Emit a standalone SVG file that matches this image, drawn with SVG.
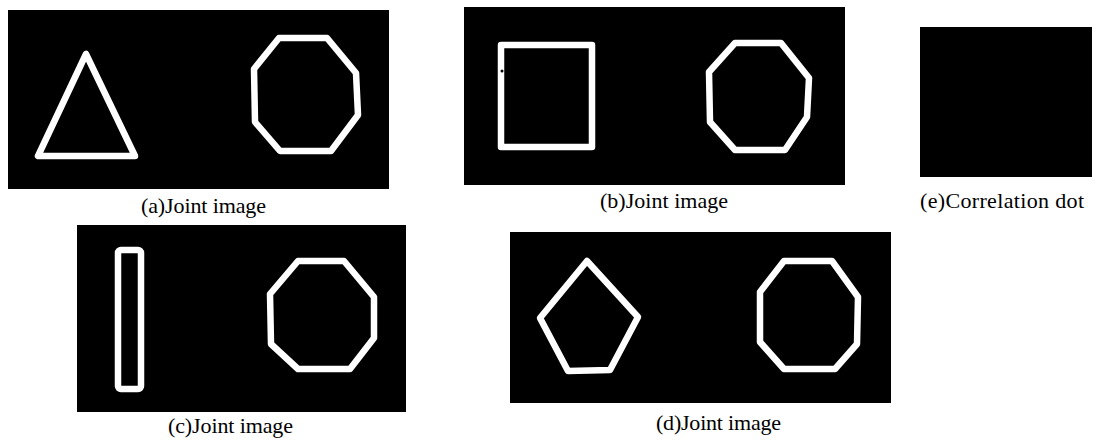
<svg xmlns="http://www.w3.org/2000/svg" width="1097" height="441" viewBox="0 0 1097 441">
<style>
.bg{fill:#000}
.sh{fill:none;stroke:#fff;stroke-width:6.5;stroke-linejoin:round}
.lb{font-family:"Liberation Serif","Times New Roman",serif;font-size:22px;fill:#000}
</style>
<rect x="0" y="0" width="1097" height="441" fill="#fff"/>
<g id="panel-a">
<rect class="bg" x="8" y="10" width="381" height="179"/>
<polygon class="sh" points="86,54 38,156 135,156"/>
<polygon class="sh" points="279,38 327,38 356,73 358,115 331,151 280,151 255,122 254,69"/>
<text class="lb" x="141" y="213" textLength="125">(a)Joint image</text>
</g>
<g id="panel-b">
<rect class="bg" x="464" y="7" width="381" height="178"/>
<polygon class="sh" points="501,45 592,45 592,147 501,147"/>
<circle cx="502" cy="71" r="1.5" fill="#000"/>
<polygon class="sh" points="735,43 781,43 809,78 807,117 785,150 735,150 710,122 709,72"/>
<text class="lb" x="600" y="208" textLength="128">(b)Joint image</text>
</g>
<g id="panel-e">
<rect class="bg" x="920" y="27" width="172" height="150"/>
<text class="lb" x="920" y="208" textLength="164">(e)Correlation dot</text>
</g>
<g id="panel-c">
<rect class="bg" x="77" y="225" width="329" height="187"/>
<rect class="sh" x="118" y="250" width="23" height="139" rx="3"/>
<polygon class="sh" points="298,261 344,261 374,297 374,338 350,369 298,369 271,344 270,294"/>
<text class="lb" x="168" y="433" textLength="125">(c)Joint image</text>
</g>
<g id="panel-d">
<rect class="bg" x="510" y="232" width="381" height="171"/>
<polygon class="sh" points="587,261 638,317 610,370 568,371 540,318"/>
<polygon class="sh" points="784,261 832,261 858,297 857,344 835,369 784,369 760,342 760,292"/>
<text class="lb" x="656" y="430" textLength="125">(d)Joint image</text>
</g>
<g id="connectors"></g>
</svg>
